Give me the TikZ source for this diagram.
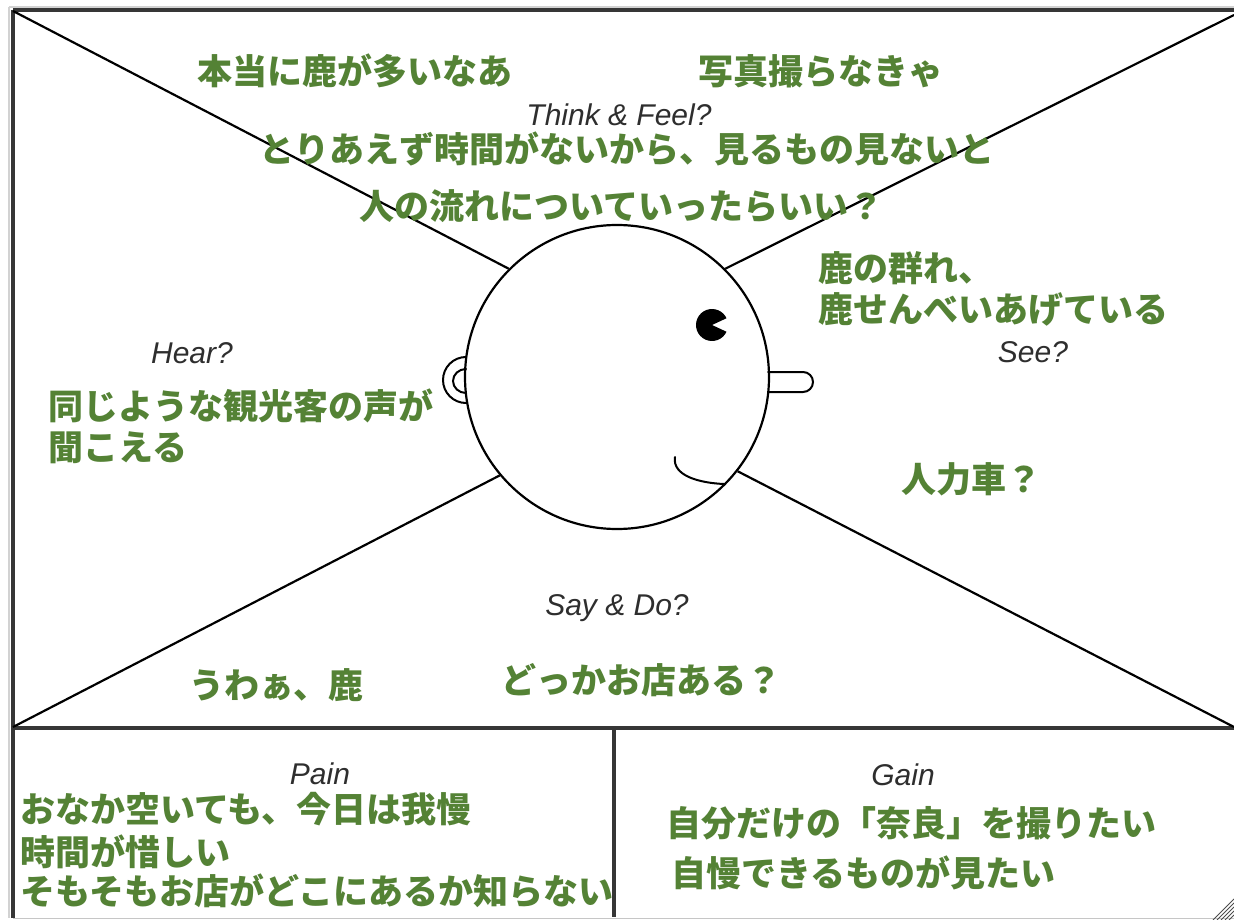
\documentclass[tikz,border=0pt]{standalone}
\usepackage{fontspec}
\setmainfont{Liberation Sans}
\newfontfamily\jp{Noto Sans CJK JP}
\definecolor{notegreen}{HTML}{548235}
\definecolor{framegray}{HTML}{363636}
\definecolor{labelgray}{HTML}{2E2E2E}

\begin{document}
\begin{tikzpicture}[x=1pt,y=-1pt,
  voice/.style={anchor=west, inner sep=0pt, text=notegreen,
    font=\jp\bfseries\fontsize{35}{35}\selectfont, text height=31pt, text depth=4pt},
  quadrant/.style={inner sep=0pt, text=labelgray,
    font=\itshape\fontsize{30}{30}\selectfont, text height=21pt, text depth=0pt},
  frameline/.style={draw=framegray, line width=3.2pt},
  ray/.style={draw=black, line width=2.2pt},
  face/.style={draw=black, line width=2pt, line cap=round}]

\useasboundingbox (0,0) rectangle (1234,920);
\fill[white] (0,0) rectangle (1234,920);

% outer frame and panel dividers
\coordinate (tl) at (13,11);
\coordinate (tr) at (1234,15);
\coordinate (bl) at (13,727);
\coordinate (br) at (1234,727);
\draw[gray!35, line width=2pt] (9,7) -- (1234,7);
\draw[gray!35, line width=2pt] (9,7) -- (9,918);
\draw[frameline] (13,10) -- (1234,10);
\draw[frameline] (13,10) -- (13,918);
\draw[frameline] (13,728) -- (1234,728);
\draw[frameline] (614,728) -- (614,917);
\draw[gray!45, line width=1.5pt] (13,918.5) -- (1234,918.5);

% resize grip in the lower right corner
\foreach \k in {0,...,4}
  \draw[black!70, line width=1pt] (1213+4*\k,920) -- (1234,899+4*\k);

% head
\node[circle, draw=black, line width=2.2pt, minimum size=304pt, inner sep=0pt] (head) at (617,377) {};

% diagonals from the corners to the head
\draw[ray] (tl) -- (head.135);
\draw[ray] (tr) -- (head.45);
\draw[ray] (bl) -- (head.220.5);
\draw[ray] (br) -- (head.322.8);

% ear
\draw[face] (466,357) arc[start angle=270, end angle=90, x radius=23, y radius=23];
\draw[face] (466,369) arc[start angle=270, end angle=90, x radius=13, y radius=12];

% nose
\draw[face] (768,372) -- (803,372)
  arc[start angle=270, end angle=450, radius=10] -- (768,392);

% eye
\fill[black] (712,325) -- ++(25:16) arc[start angle=25, end angle=335, radius=16] -- cycle;

% mouth
\draw[face] (675,457) .. controls (672,476) and (700,483) .. (724,484);

% quadrant headings
\node[quadrant] (think) at (619,115) {Think \& Feel?};
\node[quadrant] (hear) at (192,353) {Hear?};
\node[quadrant] (see) at (1033,352) {See?};
\node[quadrant] (say) at (617,605) {Say \& Do?};
\node[quadrant] (pain) at (320,774) {Pain};
\node[quadrant] (gain) at (903,775) {Gain};

% notes
\node[voice] (t1) at (197,71) {本当に鹿が多いなあ};
\node[voice] (t2) at (698,71) {写真撮らなきゃ};
\node[voice] (t3) at (259,149) {とりあえず時間がないから、見るもの見ないと};
\node[voice] (t4) at (359,206) {人の流れについていったらいい？};
\node[voice] (s1) at (818,268) {鹿の群れ、};
\node[voice] (s2) at (818,309) {鹿せんべいあげている};
\node[voice] (h1) at (48,406) {同じような観光客の声が};
\node[voice] (h2) at (48,447) {聞こえる};
\node[voice] (s3) at (901,479) {人力車？};
\node[voice] (d1) at (189,685) {うわぁ、鹿};
\node[voice] (d2) at (501,680) {どっかお店ある？};
\node[voice] (p1) at (20,809) {おなか空いても、今日は我慢};
\node[voice] (p2) at (20,852) {時間が惜しい};
\node[voice] (p3) at (20,891) {そもそもお店がどこにあるか知らない};
\node[voice] (g1) at (666,823) {自分だけの「奈良」を撮りたい};
\node[voice] (g2) at (671,873) {自慢できるものが見たい};
\end{tikzpicture}
\end{document}
